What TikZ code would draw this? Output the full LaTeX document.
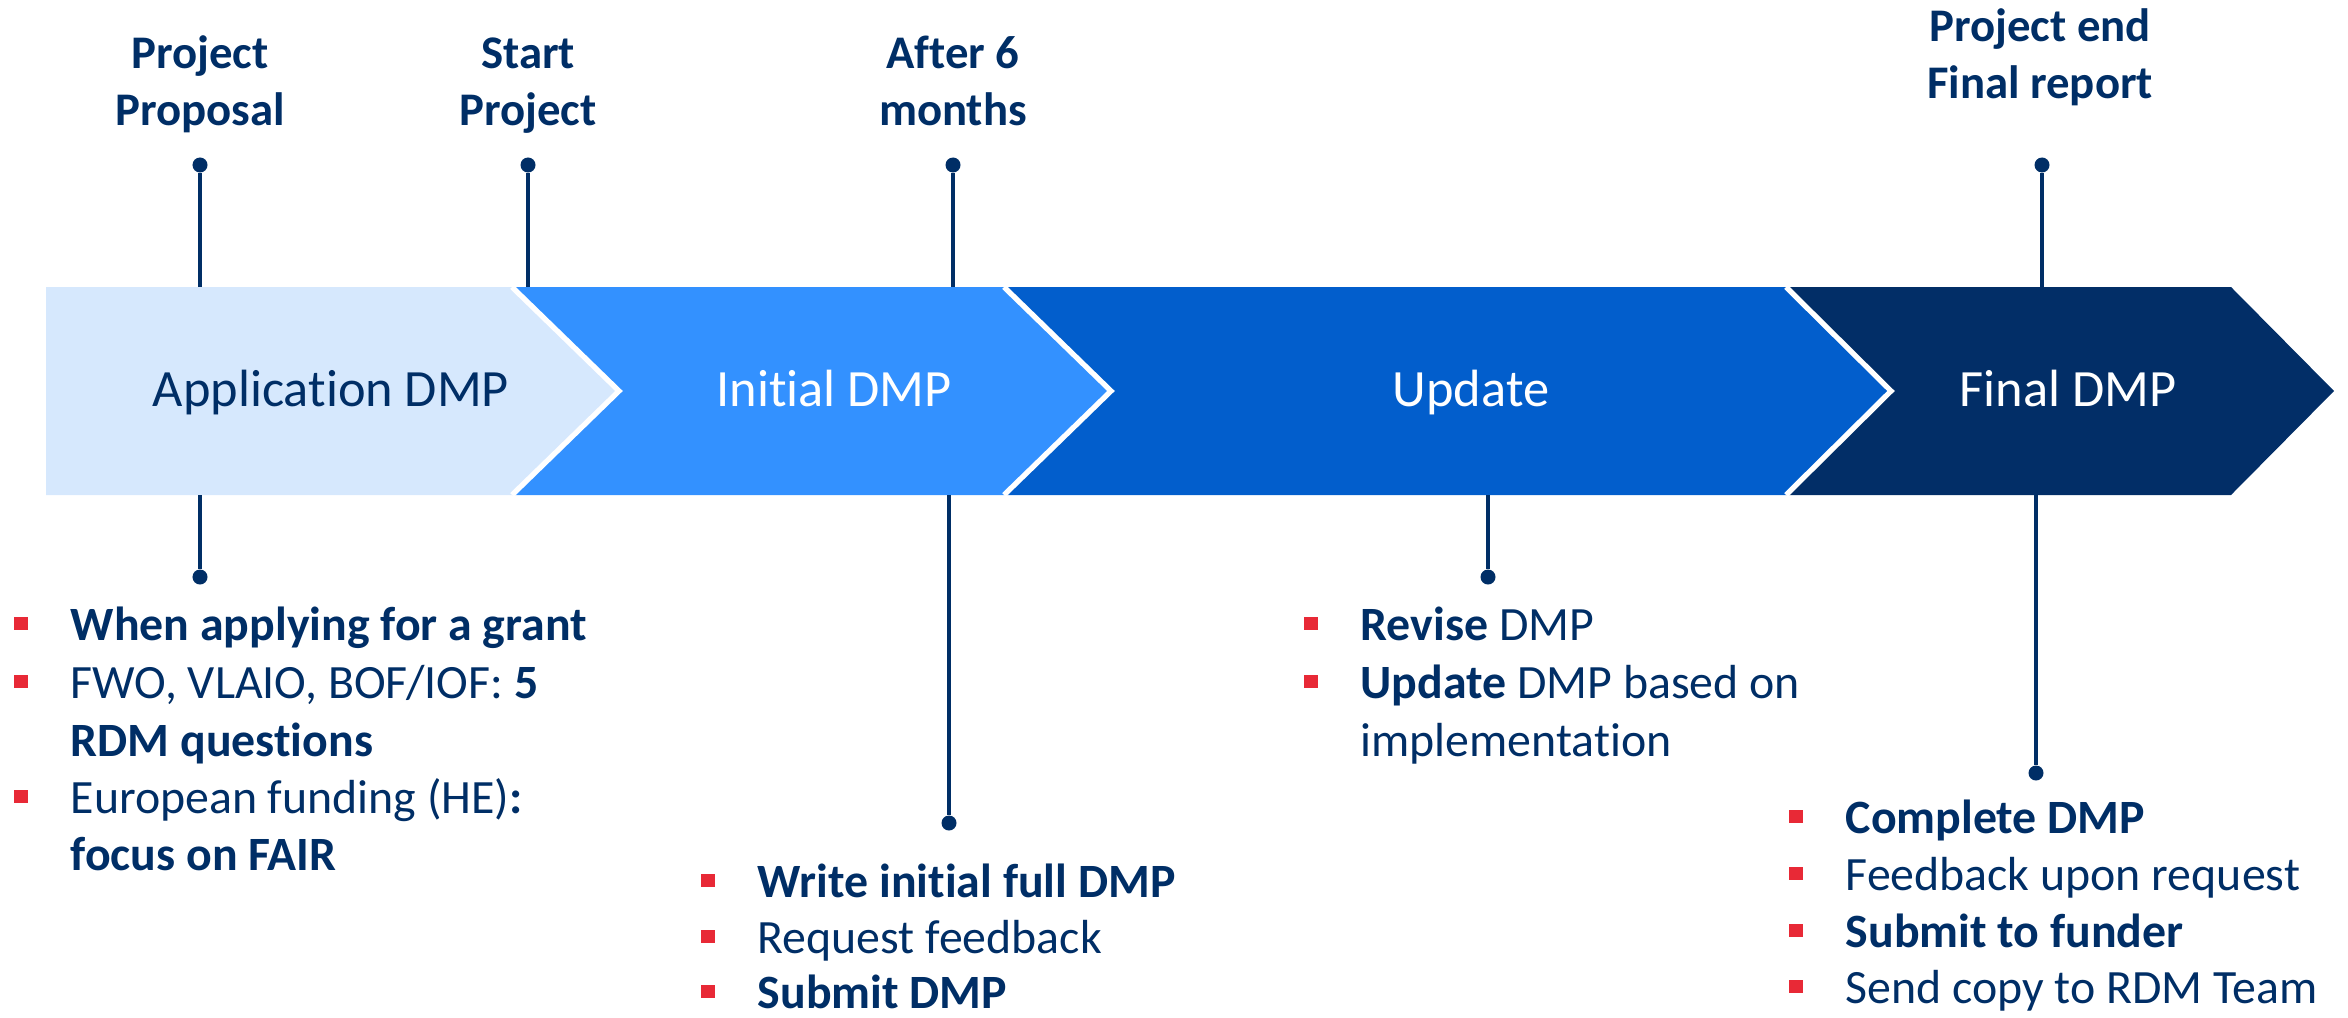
\documentclass[tikz,border=0pt]{standalone}
\usepackage{fontspec}
\setmainfont{Carlito}[Ligatures=NoCommon]
\definecolor{navy}{RGB}{0,46,102}
\definecolor{phaseA}{RGB}{214,232,253}
\definecolor{phaseB}{RGB}{51,145,255}
\definecolor{phaseC}{RGB}{2,94,204}
\definecolor{phaseD}{RGB}{2,46,103}
\definecolor{bulletred}{RGB}{232,41,54}
\begin{document}
\begin{tikzpicture}[x=0.01cm,y=-0.01cm,
  lbl/.style={font=\fontsize{13.3}{16.2}\selectfont\bfseries, text=navy, align=center, inner sep=0, anchor=base},
  phase/.style={font=\fontsize{14.9}{17}\selectfont, inner sep=0, anchor=base},
  item/.style={font=\fontsize{13.6}{16}\selectfont, text=navy, inner sep=0, anchor=base west},
  dot/.style={circle, fill=navy, minimum size=0.15cm, inner sep=0},
  stem/.style={draw=navy, line width=1.28pt},
  sep/.style={draw=white, line width=1.5pt},
  sq/.style={fill=bulletred}]
\useasboundingbox (0,0) rectangle (2348,1018);

% phase band
\fill[phaseA] (46,287) -- (512,287) -- (619,391) -- (512,495) -- (46,495) -- cycle;
\fill[phaseB] (512,287) -- (1004,287) -- (1111,391) -- (1004,495) -- (512,495) -- (619,391) -- cycle;
\fill[phaseC] (1004,287) -- (1786,287) -- (1891,391) -- (1786,495) -- (1004,495) -- (1111,391) -- cycle;
\fill[phaseD] (1786,287) -- (2231,287) -- (2334,391) -- (2231,495) -- (1786,495) -- (1891,391) -- cycle;
\draw[sep] (512,287) -- (619,391) -- (512,495);
\draw[sep] (1004,287) -- (1111,391) -- (1004,495);
\draw[sep] (1786,287) -- (1891,391) -- (1786,495);
\coordinate (bandtop) at (0,287);
\coordinate (bandbot) at (0,495);

\node[phase, text=navy]  (pa) at (331,406) {Application DMP};
\node[phase, text=white] (pb) at (834,406) {Initial DMP};
\node[phase, text=white] (pc) at (1471,406) {Update};
\node[phase, text=white] (pd) at (2068,406) {Final DMP};

% milestones above the band (anchored on the last line's baseline)
\node[lbl] (m1) at (200,125) {Project\\Proposal};
\node[lbl] (m2) at (528,125) {Start\\Project};
\node[lbl] (m3) at (953,125) {After 6\\months};
\node[lbl] (m4) at (2040,98) {Project end\\Final report};

\node[dot] (t1) at (200,165) {};
\node[dot] (t2) at (528,165) {};
\node[dot] (t3) at (953,165) {};
\node[dot] (t4) at (2042,165) {};
\foreach \t in {t1,t2,t3,t4} \draw[stem] (\t) -- (\t |- bandtop);

% stems below the band
\node[dot] (u1) at (200,577) {};
\node[dot] (u2) at (949,823) {};
\node[dot] (u3) at (1488,577) {};
\node[dot] (u4) at (2036,773) {};
\foreach \u in {u1,u2,u3,u4} \draw[stem] (\u |- bandbot) -- (\u);

% application notes
\node[item] (a1) at (70,640) {\textbf{When applying for a grant}};
\node[item] (a2) at (70,698) {FWO, VLAIO, BOF/IOF: \textbf{5}};
\node[item] (a2b) at (70,756) {\textbf{RDM questions}};
\node[item] (a3) at (70,813) {European funding (HE)\textbf{:}};
\node[item] (a3b) at (70,870) {\textbf{focus on FAIR}};

% initial notes
\node[item] (b1) at (757,897) {\textbf{Write initial full DMP}};
\node[item] (b2) at (757,953) {Request feedback};
\node[item] (b3) at (757,1008) {\textbf{Submit DMP}};

% update notes
\node[item] (c1) at (1360,640) {\textbf{Revise} DMP};
\node[item] (c2) at (1360,698) {\textbf{Update} DMP based on};
\node[item] (c2b) at (1360,756) {implementation};

% final notes
\node[item] (d1) at (1845,833) {\textbf{Complete DMP}};
\node[item] (d2) at (1845,890) {Feedback upon request};
\node[item] (d3) at (1845,947) {\textbf{Submit to funder}};
\node[item] (d4) at (1845,1003) {Send copy to RDM Team};

\foreach \b in {a1,a2,a3,b1,b2,b3,c1,c2,d1,d2,d3,d4}
  \fill[sq] ([shift={(-56,-23)}]\b.base west) rectangle ++(14,13);
\end{tikzpicture}
\end{document}
